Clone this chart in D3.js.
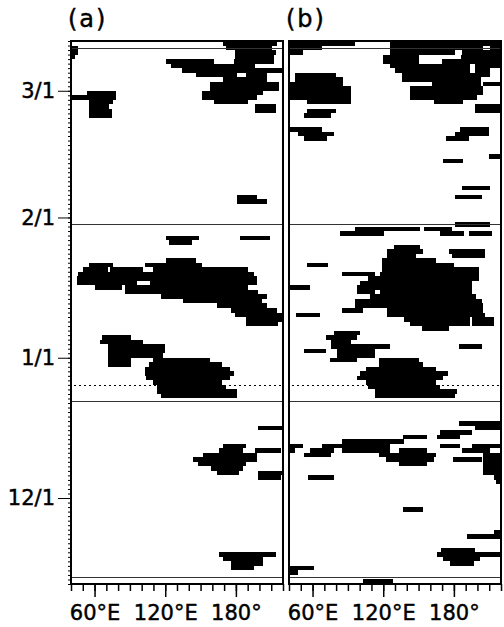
<!DOCTYPE html>
<html>
<head>
<meta charset="utf-8">
<script src="https://cdn.jsdelivr.net/npm/d3@7/dist/d3.min.js"></script>
<style>
  body { margin: 0; background: #fff; }
  text { font-family: "DejaVu Sans", sans-serif; fill: #000; stroke: #000; stroke-width: 0.45px; }
</style>
</head>
<body>
<div id="container"></div>
<script>
// time axis: days counted from 12 Nov
const startDate = new Date(Date.UTC(1998, 10, 12));
const endDate = new Date(Date.UTC(1999, 2, 12));
const lonDomain = [40, 220];
const lonMinorTicks = d3.range(40, 221, 10);
const lonMajorTicks = [60, 120, 180];
const lonTickLabels = ['60°E', '120°E', '180°'];
const sepDays = [1.5, 40.5, 79.5, 118.5];
const dottedDays = [44];
const panelLabels = ['(a)', '(b)'];

// [day, west lon, east lon] of each black run
const panelA = [
  [119,169,215],[118,172,211],[117,179,214],[116,179,212],[115,121,161],[115,178,212],
  [114,125,196],[113,134,220],[112,146,181],[112,189,206],[111,169,206],[110,158,217],
  [109,158,217],[108,151,203],[107,151,198],[106,161,190],[105,196,214],[104,196,214],
  [118,40,46],[117,40,46],[116,40,43],
  [108,54,78],[107,40,78],[106,55,76],[105,55,72],[104,55,75],[103,55,75],
  [85,181,198],[84,181,206],
  [76,121,149],[76,183.5,209],[75,123.5,143],
  [71,121,146],[70,55.5,75.4],[70,103,151],[69,50,71],[69,73,101],[69,110,190],
  [68,46,195],[67,45,198],[66,45,96],[66,107,198],[65,60,83],[65,86,190],[64,86,199],
  [63,116,206],[62,135,202],[61,164,206],[60,176,215],[59,179,220],[58,189,220],[57,189,216],
  [54,66,91],[53,65,101],[52,71,120],[51,71,120],[50,71,118],[49,71,91],[49,110,158],
  [48,71,91],[48,106,168],[47,103,175],[46,103,178],[45,104,175],[44,110,168],
  [43,113,172],[42,113,181],[41,116,181],
  [34,199,220],[30,169,189],[29,166,186],[29,196,218],[28,152,198],[27,144,198],
  [26,148,189],[25,159,186],[24,164,183],[24,199,220],[23,199,218],
  [6,166,214],[5,169,203],[4,176,203],[3,176,195]
];

const panelB = [
  [119,40,96],[118,40,68],[117,40,52],
  [119,126,220],[118,126,205],[118,211,220],[117,126,181],[117,187,220],
  [116,120,150],[116,186,220],[115,120,150],[115,170,220],[114,126,194],[114,198,220],
  [113,130,194],[113,198,211],[112,136,211],[111,136,203],[110,161,203],[110,205,220],
  [109,143,205],[108,143,205],[107,143,200],[106,163,188],[105,198,220],[104,198,220],
  [100,185,210],[99,181,210],[98,173,193],[94,210,220],[93,171,188],[87,187,211],[85,181,204],
  [112,45,80],[111,45,86],[110,40,86],[109,40,93],[108,40,93],[107,40,93],[106,55,93],
  [104,55,80],[103,53,76],[100,40,68],[99,48,78],[98,53,72],
  [79,181,211],[78,96,151],[78,155,178],[77,83,121],[77,168,189],[77,193,212],
  [74,129,151],[73,123,154],[73,176,206],[72,123,148],[72,178,206],[71,119,165],
  [70,55,73],[70,119,180],[69,119,201],[68,85,113],[68,117,201],[67,107,201],
  [66,100,195],[65,41,58],[65,98,195],[64,98,113],[64,117,195],[63,109,199],
  [62,96,204],[61,96,205],[60,85,103],[60,123,205],[59,46,66],[59,123,206],
  [58,138,194],[58,195,214],[57,143,194],[57,195,214],[56,153,176],
  [55,78,100],[54,71,98],[53,76,93],[52,76,126],[52,184,204],[51,53,71],[51,81,113],
  [50,81,113],[49,75,98],[49,116,150],[48,116,154],[47,105,165],[46,100,175],
  [45,98,171],[44,105,165],[43,107,168],[42,113,183],[41,113,181],
  [35,184,220],[34,198,220],[33,168,195],[32,137,157],[32,166,185],[31,85,138],
  [30,40,52],[30,68,126],[30,168,185],[30,195,220],
  [29,40,45],[29,58,78],[29,85,126],[29,133,157],[29,187,211],
  [28,53,76],[28,116,165],[28,205,220],[27,122,163],[27,179,204],[27,205,220],
  [26,133,157],[26,205,220],[25,205,220],[24,205,220],[23,56,78],[23,214,220],[22,216,220],
  [16,137,154],[11,214,220],[10,191,220],
  [7,169,198],[6,166,220],[5,171,202],[4,177,197],[3,40,61],[2,40,48],[0,103,128]
];

let width = 504,
  height = 627,
  plotTop = 41,
  plotBottom = 584,
  panels = [
    { rows: panelA, left: 71, right: 283 },
    { rows: panelB, left: 289, right: 501 }
  ];

let svg = d3.select('#container')
  .append('svg')
  .attr('width', width)
  .attr('height', height)

let dayDate = function (d) {
  return new Date(startDate.getTime() + d * 864e5)
}

let scale_y = d3.scaleUtc()
  .domain([startDate, endDate])
  .range([plotBottom, plotTop])

panels.forEach(function (p, i) {
  let scale_x = d3.scaleLinear()
    .domain(lonDomain)
    .range([p.left, p.right])

  let g = svg.append('g')

  // black runs, one day tall
  g.append('g')
    .attr('shape-rendering', 'crispEdges')
    .selectAll('rect')
    .data(p.rows).enter().append('rect')
    .attr('x', function (d) { return scale_x(d[1]) })
    .attr('width', function (d) { return scale_x(d[2]) - scale_x(d[1]) })
    .attr('y', function (d) { return scale_y(dayDate(d[0] + 1)) })
    .attr('height', function (d) { return scale_y(dayDate(d[0])) - scale_y(dayDate(d[0] + 1)) })
    .style('fill', '#000')

  // separator lines
  g.selectAll('line.sep')
    .data(sepDays).enter().append('line')
    .attr('class', 'sep')
    .attr('x1', p.left).attr('x2', p.right)
    .attr('y1', function (d) { return Math.round(scale_y(dayDate(d))) + 0.5 })
    .attr('y2', function (d) { return Math.round(scale_y(dayDate(d))) + 0.5 })
    .style('stroke', '#333')
    .style('stroke-width', 1)

  g.selectAll('line.dot')
    .data(dottedDays).enter().append('line')
    .attr('class', 'dot')
    .attr('x1', p.left + 3).attr('x2', p.right)
    .attr('y1', function (d) { return Math.round(scale_y(dayDate(d))) + 0.5 })
    .attr('y2', function (d) { return Math.round(scale_y(dayDate(d))) + 0.5 })
    .style('stroke', '#000')
    .style('stroke-width', 1)
    .style('stroke-dasharray', '2,3')

  // frame
  g.append('rect')
    .attr('x', p.left).attr('y', plotTop)
    .attr('width', p.right - p.left).attr('height', plotBottom - plotTop)
    .style('fill', 'none')
    .style('stroke', '#000')
    .style('stroke-width', 2)

  // longitude axis
  let minor = d3.axisBottom(scale_x).tickValues(lonMinorTicks).tickSize(7).tickFormat('')
  let major = d3.axisBottom(scale_x).tickValues(lonMajorTicks).tickSize(13).tickPadding(8)
    .tickFormat(function (d, k) { return lonTickLabels[k] })
  let ax = g.append('g').attr('transform', 'translate(0,' + plotBottom + ')')
  ax.append('g').call(minor)
  ax.append('g').call(major)
  ax.selectAll('.domain').remove()
  ax.selectAll('line').style('stroke', '#000').style('stroke-width', 1.5)
  ax.selectAll('text')
    .style('font-size', '21px')
    .style('font-family', '"DejaVu Sans", sans-serif')

  svg.append('text')
    .attr('x', p.left - 3)
    .attr('y', 27)
    .style('font-size', '24px')
    .style('letter-spacing', '2px')
    .text(panelLabels[i])
})

// date axis on the left panel
let dayTicks = d3.utcDay.range(startDate, d3.utcDay.offset(endDate, 1))
let monthTicks = d3.utcMonth.range(startDate, endDate)
let ay = svg.append('g').attr('transform', 'translate(71,0)')
ay.append('g').call(d3.axisLeft(scale_y).tickValues(dayTicks).tickSize(3).tickFormat(''))
ay.append('g').call(d3.axisLeft(scale_y).tickValues(monthTicks).tickSize(13).tickPadding(3)
  .tickFormat(d3.utcFormat('%-m/%-d')))
ay.selectAll('.domain').remove()
ay.selectAll('line').style('stroke', '#000')
ay.selectAll('text')
  .style('font-size', '21px')
  .style('font-family', '"DejaVu Sans", sans-serif')
</script>
</body>
</html>
